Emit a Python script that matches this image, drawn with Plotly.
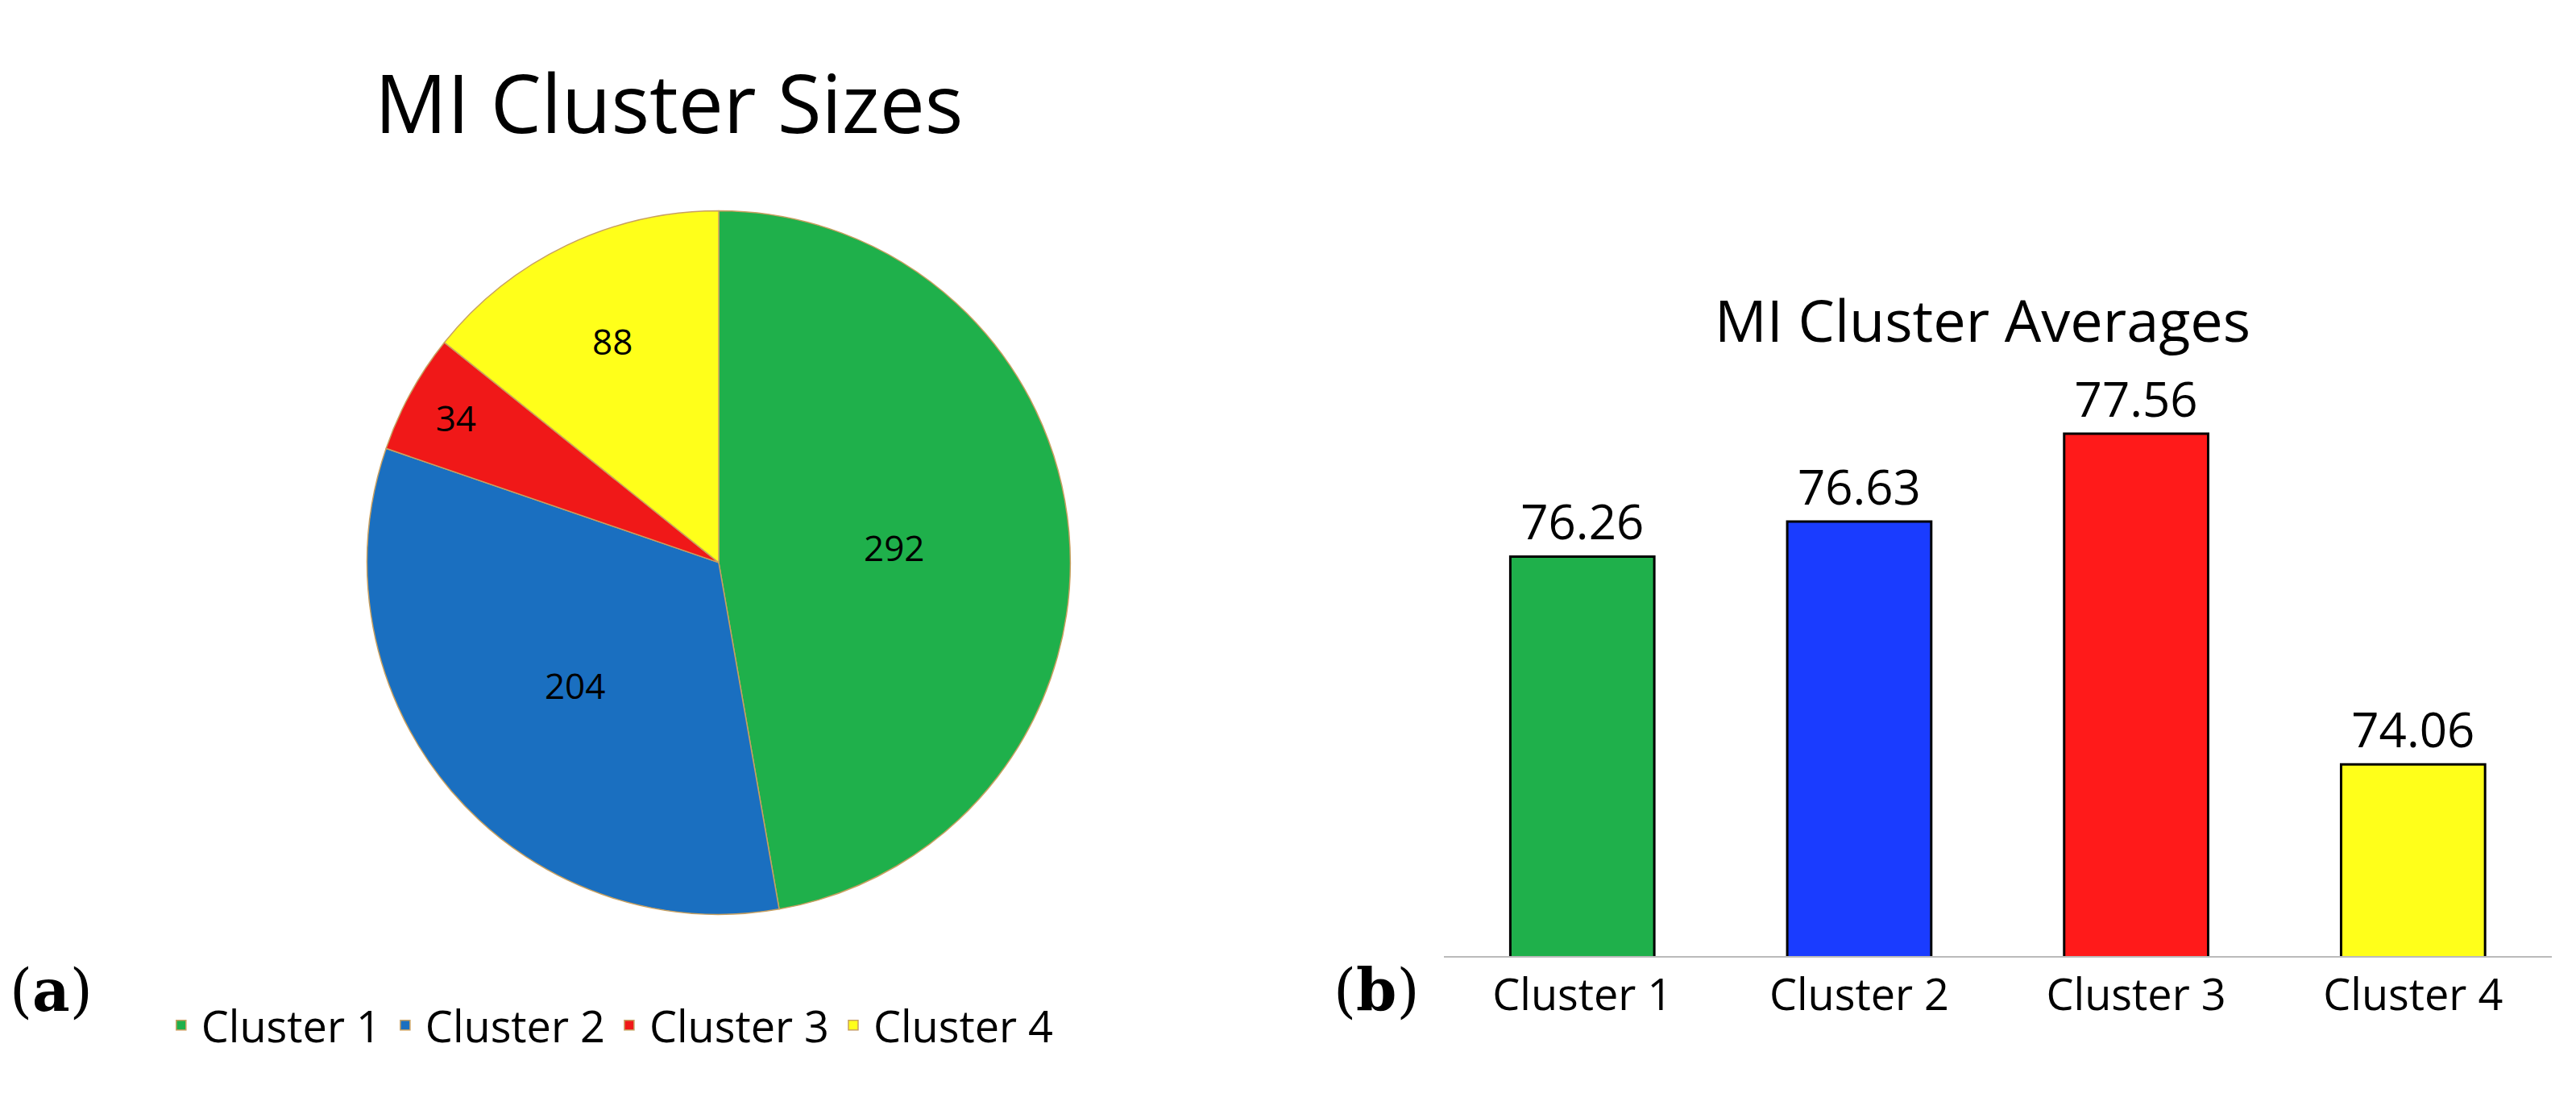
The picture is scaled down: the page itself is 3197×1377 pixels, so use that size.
import plotly.graph_objects as go

clusters = ["Cluster 1", "Cluster 2", "Cluster 3", "Cluster 4"]
sizes = [292, 204, 34, 88]
averages = [76.26, 76.63, 77.56, 74.06]
pie_colors = ["#1fb04b", "#1a6fc0", "#f01818", "#ffff1a"]
bar_colors = ["#1fb04b", "#1a3cff", "#ff1a1a", "#ffff1a"]

fig = go.Figure()
fig.add_trace(go.Pie(
    labels=clusters, values=sizes, sort=False, direction="clockwise", rotation=0,
    marker=dict(colors=pie_colors, line=dict(color="#c8a060", width=1.5)),
    textinfo="value", textposition="inside", insidetextorientation="horizontal",
    textfont=dict(size=44, color="black", family="Open Sans"),
    domain=dict(x=[0.140, 0.413], y=[0.182, 0.816]), showlegend=True))
fig.add_trace(go.Bar(
    x=clusters, y=averages, marker=dict(color=bar_colors, line=dict(color="black", width=3)),
    width=0.52, text=[f"{v:.2f}" for v in averages], textposition="outside",
    textfont=dict(size=60, color="black", family="Open Sans"), cliponaxis=False,
    showlegend=False, xaxis="x", yaxis="y"))

fig.update_layout(
    width=3197, height=1377, paper_bgcolor="white", plot_bgcolor="white",
    margin=dict(l=0, r=0, t=0, b=0),
    font=dict(family="Open Sans", color="black"),
    xaxis=dict(domain=[0.558, 0.988], showline=True, linecolor="#bbbbbb", linewidth=2,
               ticks="", tickfont=dict(size=54, family="Open Sans"), showgrid=False),
    yaxis=dict(domain=[0.1445, 0.695], range=[72.03, 78.5], visible=False, showgrid=False),
    legend=dict(orientation="h", x=0.06, y=0.082, xanchor="left", yanchor="middle",
                font=dict(size=54, family="Open Sans"), itemwidth=40, traceorder="normal"),
    annotations=[
        dict(text="MI Cluster Sizes", x=0.257, y=0.965, xref="paper", yref="paper",
             xanchor="center", showarrow=False, font=dict(size=100, family="Open Sans")),
        dict(text="MI Cluster Averages", x=0.767, y=0.755, xref="paper", yref="paper",
             xanchor="center", showarrow=False, font=dict(size=72, family="Open Sans")),
        dict(text="(<b>a</b>)", x=0.0175, y=0.081, xref="paper", yref="paper",
             xanchor="center", showarrow=False, font=dict(size=72, family="DejaVu Serif")),
        dict(text="(<b>b</b>)", x=0.532, y=0.081, xref="paper", yref="paper",
             xanchor="center", showarrow=False, font=dict(size=72, family="DejaVu Serif")),
    ])
fig.write_html("out.html")
